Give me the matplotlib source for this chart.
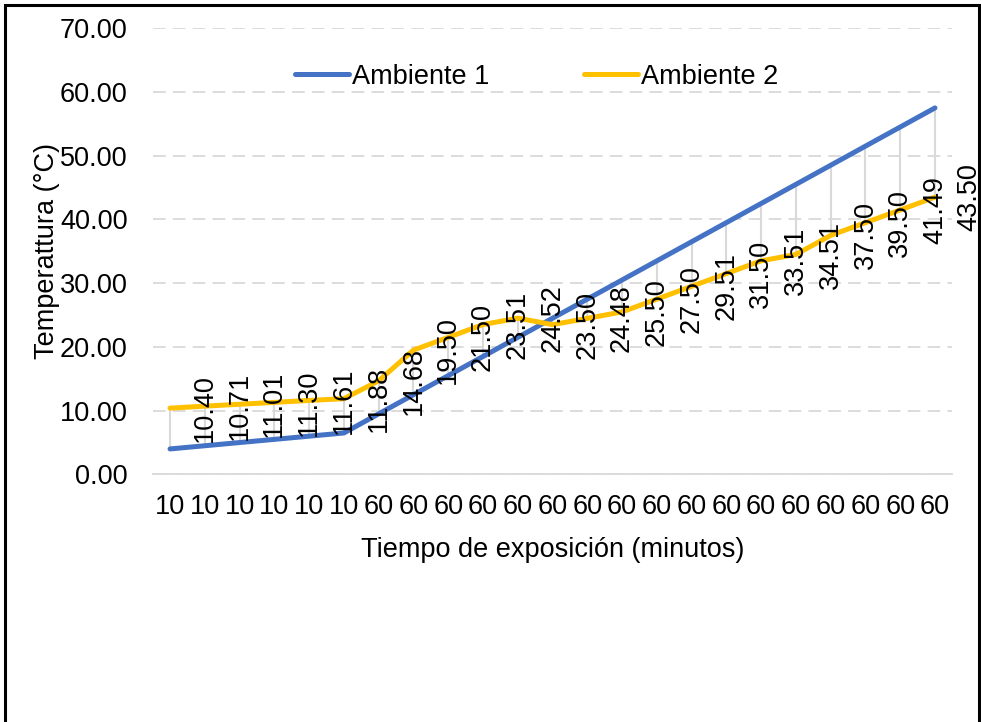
import matplotlib
matplotlib.use("Agg")
import matplotlib.pyplot as plt
from matplotlib import font_manager
from matplotlib.patches import Rectangle

plt.rcParams['font.family'] = ['Liberation Sans', 'DejaVu Sans']

# datos
tiempos = ['10'] * 6 + ['60'] * 17
ambiente1 = [4.0, 4.5, 5.0, 5.5, 6.0, 6.5, 9.5, 12.5, 15.5, 18.5, 21.5, 24.5,
             27.5, 30.5, 33.5, 36.5, 39.5, 42.5, 45.5, 48.5, 51.5, 54.5, 57.5]
ambiente2 = [10.40, 10.71, 11.01, 11.30, 11.61, 11.88, 14.68, 19.50, 21.50, 23.51,
             24.52, 23.50, 24.48, 25.50, 27.50, 29.51, 31.50, 33.51, 34.51, 37.50,
             39.50, 41.49, 43.50]

nombres = [f.name for f in font_manager.fontManager.ttflist]
narrow = 'Liberation Sans Narrow' if 'Liberation Sans Narrow' in nombres else 'Liberation Sans'

x = list(range(len(tiempos)))

fig = plt.figure(figsize=(9.81, 7.22), dpi=100)
ax = fig.add_axes([0.1556, 0.3429, 0.8152, 0.6180])

# lineas de maximo-minimo
ax.vlines(x, [min(a, b) for a, b in zip(ambiente1, ambiente2)],
          [max(a, b) for a, b in zip(ambiente1, ambiente2)],
          color='#d9d9d9', lw=1.5, zorder=1)

ax.plot(x, ambiente1, color='#4472C4', lw=3.6, solid_capstyle='round',
        label='Ambiente 1', zorder=3)
ax.plot(x, ambiente2, color='#FFC000', lw=3.6, solid_capstyle='round',
        label='Ambiente 2', zorder=3)

# etiquetas de datos (desplazadas a la derecha, como en Excel)
for i, v in enumerate(ambiente2):
    ax.text(i + 1, v, '{:.2f}'.format(v), rotation=90, ha='center', va='center',
            fontsize=19.5, color='black', clip_on=False, zorder=4)

ax.set_xlim(-0.5, len(x) - 0.5)
ax.set_ylim(0, 70)
ax.set_yticks(range(0, 71, 10))
ax.set_yticklabels(['{:.2f}'.format(t) for t in range(0, 71, 10)], fontsize=19.5)
ax.set_xticks(x)
ax.set_xticklabels(tiempos, fontsize=19.5, family=narrow)
ax.tick_params(axis='both', length=0)
ax.tick_params(axis='y', pad=18)
ax.tick_params(axis='x', pad=14)

ax.grid(axis='y', color='#d9d9d9', lw=1.3, ls=(0, (7, 4)))
ax.set_axisbelow(True)
for s in ['top', 'right', 'left']:
    ax.spines[s].set_visible(False)
ax.spines['bottom'].set_color('#d9d9d9')
ax.spines['bottom'].set_linewidth(1.3)

ax.set_xlabel('Tiempo de exposición (minutos)', fontsize=19.5, labelpad=12)
ax.set_ylabel('Temperattura (°C)', fontsize=19.5, labelpad=0)

ax.legend(loc='upper center', bbox_to_anchor=(0.48, 0.975), ncol=2, frameon=False,
          fontsize=19.5, handlelength=2.0, handletextpad=0.1, columnspacing=3.5)

# borde del grafico
fig.patches.append(Rectangle((5 / 981, -0.05), 974 / 981, 1.05 - 5 / 722,
                             transform=fig.transFigure, fill=False,
                             edgecolor='black', lw=2.2))

fig.savefig('out.png', dpi=100)
